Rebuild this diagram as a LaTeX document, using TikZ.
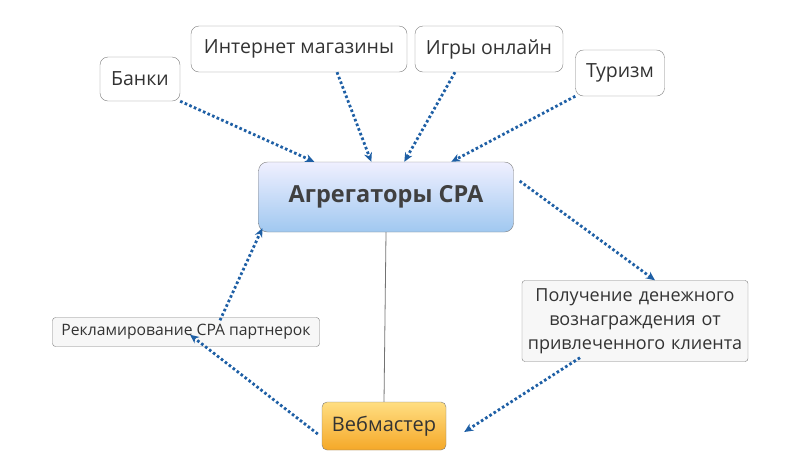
\documentclass[tikz,border=0pt]{standalone}
\usepackage{fontspec}
\setmainfont{Open Sans}
\usetikzlibrary{arrows.meta, positioning, calc}
\definecolor{LinkBlue}{RGB}{30,95,165}
\definecolor{EdgeGray}{RGB}{125,125,125}

\begin{document}
\begin{tikzpicture}[x=1pt, y=-1pt, >={Stealth[length=9pt, width=8pt]},
    topic/.style={draw=EdgeGray, fill=white, rounded corners=8pt, font=\fontsize{19.5}{22}\selectfont, text=black!80, inner sep=0pt},
    hub/.style={draw=EdgeGray, rounded corners=9pt, top color=blue!6, bottom color={rgb,255:red,160;green,200;blue,240}, font=\bfseries\fontsize{23.5}{26}\selectfont, text=black!75, minimum width=255pt, minimum height=70pt},
    worker/.style={draw=EdgeGray, rounded corners=5pt, top color={rgb,255:red,255;green,222;blue,130}, bottom color={rgb,255:red,245;green,168;blue,40}, font=\fontsize{20}{22}\selectfont, text=black!80, minimum width=124pt, minimum height=48pt},
    leaf/.style={draw=EdgeGray, fill=black!3, rounded corners=3pt, font=\fontsize{15.7}{18}\selectfont, text=black!80, inner sep=0pt},
    link/.style={->, LinkBlue, line width=2.8pt, dash pattern=on 2.6pt off 2.4pt}]
    \useasboundingbox (0,0) rectangle (794,467);

    % Sources
    \node[topic, minimum width=80pt, minimum height=44pt] (banks) at (140,79) {Банки};
    \node[topic, minimum width=216pt, minimum height=46pt] (shops) at (299,49) {Интернет магазины};
    \node[topic, minimum width=148pt, minimum height=46pt] (games) at (489,49) {Игры онлайн};
    \node[topic, minimum width=89pt, minimum height=46pt] (tour) at (620,73) {Туризм};

    % Centre and webmaster
    \node[hub] (cpa) at (386,197) {Агрегаторы CPA};
    \node[worker] (web) at (384,426) {Вебмастер};
    \draw[black!55, line width=0.8pt] (cpa.south) -- (web.north);

    % Side notes
    \node[leaf, minimum width=267pt, minimum height=29pt] (ads) at (186,332) {Рекламирование CPA партнерок};
    \node[leaf, font=\fontsize{18}{24}\selectfont, text width=226pt, align=center, minimum height=81pt] (pay) at (635,321)
        {Получение денежного\\вознаграждения от\\привлеченного клиента};

    % Links
    \draw[link] (banks.south east) -- ([xshift=56pt]cpa.north west);
    \draw[link] ([xshift=38pt]shops.south) -- ([xshift=113pt]cpa.north west);
    \draw[link] ([xshift=-34pt]games.south) -- ([xshift=146pt]cpa.north west);
    \draw[link] (tour.south west) -- ([xshift=193pt]cpa.north west);
    \draw[link] ([xshift=6pt,yshift=16pt]cpa.east) -- ([xshift=20pt]pay.north);
    \draw[link] ([xshift=-55pt,yshift=4pt]pay.south) -- ([xshift=18pt,yshift=-6pt]web.east);
    \draw[link] ([xshift=-4pt,yshift=-8pt]web.west) -- ([xshift=4pt,yshift=12pt]ads.south);
    \draw[link] ([xshift=34pt,yshift=-3pt]ads.north) -- ([xshift=4pt,yshift=4pt]cpa.south west);
\end{tikzpicture}
\end{document}
